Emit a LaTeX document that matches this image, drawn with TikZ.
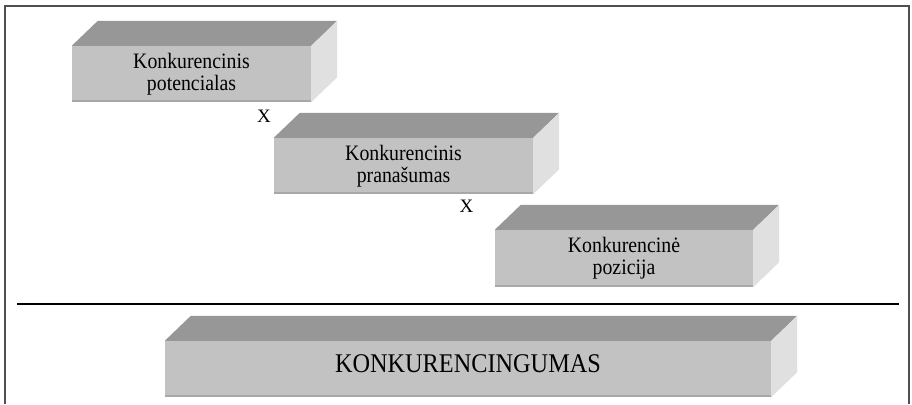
\documentclass[tikz,border=0pt]{standalone}
\usepackage{fontspec}
\setmainfont{Liberation Serif}
\newfontfamily\narrowserif[FakeStretch=0.9]{Liberation Serif}
\usepackage{tikz}
\usetikzlibrary{positioning}

\definecolor{frontgray}{HTML}{C2C2C2}
\definecolor{topgray}{HTML}{979797}
\definecolor{sidegray}{HTML}{E0E0E0}
\definecolor{edgegray}{HTML}{A8A8A8}
\definecolor{framegray}{HTML}{505050}

\begin{document}
\begin{tikzpicture}[x=1pt,y=-1pt,align=center,inner sep=0pt,
	every node/.style={font=\narrowserif\fontsize{22}{22}\selectfont},
	front/.style={fill=frontgray,minimum height=56pt},
	bigfront/.style={front,font=\narrowserif\fontsize{27}{30}\selectfont,text depth=10pt},
	times/.style={font=\fontsize{19}{20}\selectfont}]
\useasboundingbox (0,0) rectangle (912,404);

% frame and rule
\draw[framegray,line width=1.5pt] (5,404) -- (5,6) -- (909,6) -- (909,404);
\coordinate (rule left) at (17,304);
\coordinate (rule right) at (899,304);
\draw[line width=1.5pt] (rule left) -- (rule right);

% front faces
\node[front,minimum width=239pt] (potencialas) at (191.5,74) {Konkurencinis \\ potencialas};
\node[times] (x1) at (264,116) {X};
\node[front,minimum width=259pt] (pranasumas) at (403.5,166) {Konkurencinis \\ pranašumas};
\node[times] (x2) at (466.5,206) {X};
\node[front,minimum width=258pt,minimum height=57pt] (pozicija) at (624,258.5) {Konkurencinė \\ pozicija};
\node[bigfront,minimum width=606pt] (konkurencingumas) at (468,369) {KONKURENCINGUMAS};

% top and side faces
\foreach \b in {potencialas,pranasumas,pozicija,konkurencingumas}
{
	\fill[topgray] (\b.north west) -- (\b.north east) -- ++(26,-25)
		-- ([shift={(26,-25)}]\b.north west) -- cycle;
	\fill[sidegray] (\b.north east) -- ++(26,-25)
		-- ([shift={(26,-25)}]\b.south east) -- (\b.south east) -- cycle;
	\draw[edgegray,line width=2pt] ([yshift=1pt]\b.south west) -- ([yshift=1pt]\b.south east);
}

\end{tikzpicture}
\end{document}
